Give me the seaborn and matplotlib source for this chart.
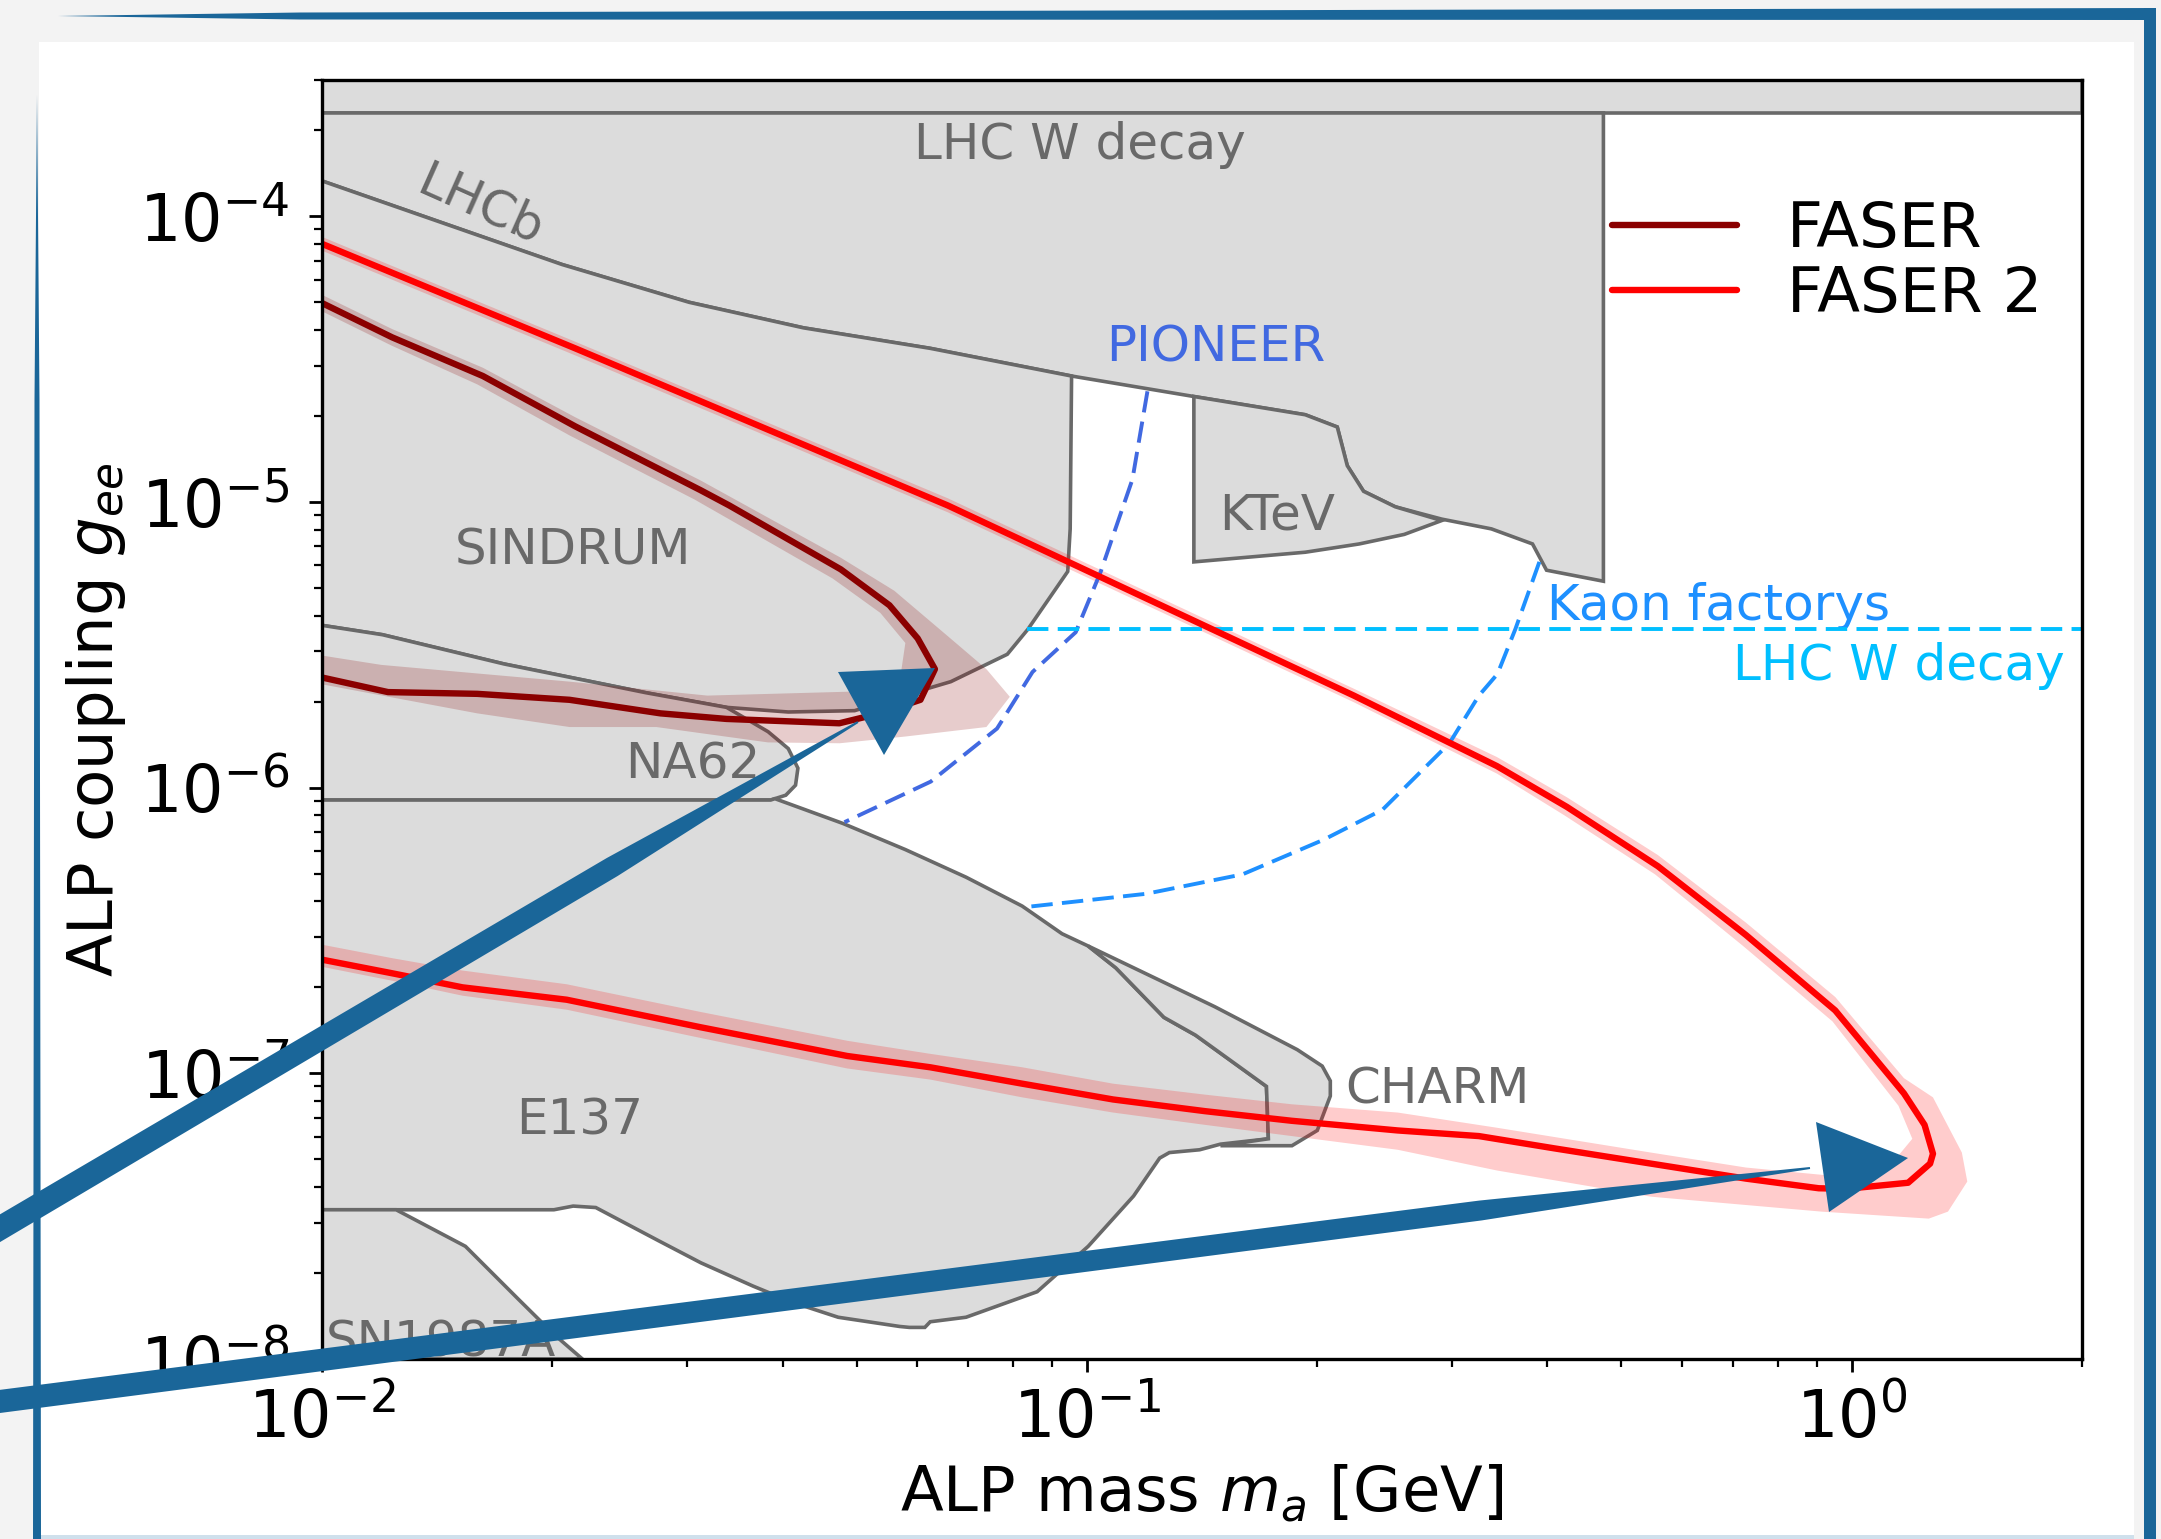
"""ALP-electron coupling: FASER / FASER 2 reach on top of existing limits."""

import matplotlib

matplotlib.use("Agg")
import matplotlib.pyplot as plt
import numpy as np
import seaborn as sns
from matplotlib.patches import Polygon

# ---------------------------------------------------------------------------
# data: ALP mass m_a [GeV] and coupling g_ee
# ---------------------------------------------------------------------------
STRIP_M = [0.01, 2.0, 2.0, 0.01]
STRIP_G = [2.3e-4, 2.3e-4, 1e-3, 1e-3]

LHCW_M = [0.01, 0.4735, 0.4735, 0.399, 0.3825, 0.338, 0.291, 0.253, 0.230,
          0.219, 0.2125, 0.193, 0.138, 0.0955, 0.0624, 0.0426, 0.0302, 0.0206, 0.01]
LHCW_G = [2.3e-4, 2.3e-4, 5.28e-6, 5.77e-6, 7.13e-6, 8.05e-6, 8.71e-6, 9.62e-6,
          1.09e-5, 1.34e-5, 1.83e-5, 2.02e-5, 2.34e-5, 2.76e-5, 3.45e-5,
          4.07e-5, 5.0e-5, 6.78e-5, 1.33e-4]

KTEV_M = [0.138, 0.138, 0.193, 0.227, 0.260, 0.291, 0.253, 0.230, 0.219, 0.2125, 0.193]
KTEV_G = [2.34e-5, 6.17e-6, 6.67e-6, 7.13e-6, 7.70e-6, 8.61e-6, 9.62e-6,
          1.09e-5, 1.34e-5, 1.83e-5, 2.02e-5]

SINDRUM_M = [0.01, 0.0206, 0.0302, 0.0426, 0.0624, 0.0955, 0.0951, 0.0944,
             0.0837, 0.0787, 0.0664, 0.0597, 0.0497, 0.0407, 0.0338, 0.0265,
             0.0173, 0.0120, 0.01]
SINDRUM_G = [1.33e-4, 6.78e-5, 5.0e-5, 4.07e-5, 3.45e-5, 2.76e-5, 8.05e-6,
             5.71e-6, 3.58e-6, 2.93e-6, 2.35e-6, 2.16e-6, 1.86e-6, 1.84e-6,
             1.91e-6, 2.15e-6, 2.71e-6, 3.43e-6, 3.70e-6]

NA62_M = [0.01, 0.0120, 0.0173, 0.0265, 0.0338, 0.0383, 0.0407, 0.0419,
          0.0416, 0.0404, 0.0386, 0.01]
NA62_G = [3.70e-6, 3.43e-6, 2.71e-6, 2.15e-6, 1.91e-6, 1.57e-6, 1.37e-6,
          1.17e-6, 1.02e-6, 9.41e-7, 9.05e-7, 9.05e-7]

E137_M = [0.01, 0.0386, 0.0391, 0.0480, 0.0579, 0.0695, 0.0823, 0.0928, 0.1004,
          0.1091, 0.1261, 0.1387, 0.1717, 0.1727, 0.1495, 0.1404, 0.1282,
          0.1245, 0.1151, 0.1004, 0.0861, 0.0695, 0.0624, 0.0614, 0.0586,
          0.0569, 0.0473, 0.0412, 0.0366, 0.0313, 0.0275, 0.0228, 0.0213,
          0.0201, 0.01]
E137_G = [9.05e-7, 9.05e-7, 9.15e-7, 7.49e-7, 6.07e-7, 4.86e-7, 3.85e-7,
          3.08e-7, 2.79e-7, 2.34e-7, 1.57e-7, 1.36e-7, 9.00e-8, 5.90e-8,
          5.65e-8, 5.40e-8, 5.28e-8, 5.05e-8, 3.72e-8, 2.48e-8, 1.72e-8,
          1.40e-8, 1.35e-8, 1.29e-8, 1.29e-8, 1.30e-8, 1.40e-8, 1.58e-8,
          1.80e-8, 2.17e-8, 2.60e-8, 3.39e-8, 3.43e-8, 3.33e-8, 3.33e-8]

CHARM_M = [0.1004, 0.1470, 0.1884, 0.2031, 0.2081, 0.2081, 0.2001, 0.1854,
           0.1495, 0.1727, 0.1717, 0.1387, 0.1261, 0.1091]
CHARM_G = [2.79e-7, 1.71e-7, 1.21e-7, 1.06e-7, 9.41e-8, 8.33e-8, 6.31e-8,
           5.58e-8, 5.58e-8, 5.90e-8, 9.00e-8, 1.36e-7, 1.57e-7, 2.34e-7]

SN1987A_M = [0.01, 0.0125, 0.0154, 0.0181, 0.0201, 0.0219, 0.01]
SN1987A_G = [3.33e-8, 3.33e-8, 2.48e-8, 1.61e-8, 1.22e-8, 1.0e-8, 1.0e-8]

# projected sensitivities (dashed)
PIONEER_M = [0.1200, 0.1147, 0.1042, 0.0967, 0.0849, 0.0763, 0.0625, 0.0482]
PIONEER_G = [2.44e-5, 1.20e-5, 5.68e-6, 3.50e-6, 2.54e-6, 1.61e-6, 1.05e-6, 7.57e-7]

KAON_M = [0.3905, 0.3634, 0.3442, 0.3255, 0.2978, 0.2435, 0.2039, 0.1597, 0.1195, 0.0839]
KAON_G = [6.17e-6, 3.60e-6, 2.50e-6, 2.10e-6, 1.43e-6, 8.37e-7, 6.57e-7,
          4.97e-7, 4.25e-7, 3.83e-7]

LHCW_PROJ_M = [0.0836, 2.0]
LHCW_PROJ_G = [3.58e-6, 3.58e-6]

# FASER reach
FASER_M = [0.01, 0.01235, 0.01623, 0.02143, 0.03125, 0.03406, 0.04767, 0.05519,
           0.06009, 0.06329, 0.06059, 0.05362, 0.04746, 0.03379, 0.02770,
           0.02107, 0.01596, 0.0122, 0.01]
FASER_G = [4.97e-5, 3.77e-5, 2.76e-5, 1.84e-5, 1.10e-5, 9.73e-6, 5.81e-6,
           4.35e-6, 3.33e-6, 2.60e-6, 2.03e-6, 1.82e-6, 1.68e-6, 1.74e-6,
           1.82e-6, 2.03e-6, 2.13e-6, 2.16e-6, 2.43e-6]
FASER_BAND_M = [0.01, 0.01235, 0.01623, 0.02143, 0.03125, 0.04767, 0.0560,
                0.0664, 0.0739, 0.0793, 0.0739, 0.0579, 0.0475, 0.0383, 0.02736,
                0.02107, 0.01596, 0.01,
                0.01, 0.01195, 0.01596, 0.02107, 0.0319, 0.0497, 0.0572, 0.0579,
                0.0537, 0.0465, 0.0307, 0.02107, 0.01596, 0.01235, 0.01]
FASER_BAND_G = [5.31e-5, 4.03e-5, 2.95e-5, 1.98e-5, 1.19e-5, 6.38e-6, 4.89e-6,
                3.32e-6, 2.60e-6, 2.08e-6, 1.63e-6, 1.51e-6, 1.43e-6, 1.44e-6,
                1.63e-6, 1.63e-6, 1.82e-6, 2.30e-6,
                2.90e-6, 2.69e-6, 2.51e-6, 2.35e-6, 2.10e-6, 2.17e-6, 2.57e-6,
                3.21e-6, 4.09e-6, 5.40e-6, 1.02e-5, 1.71e-5, 2.58e-5, 3.52e-5, 4.65e-5]

# FASER 2 reach
FASER2_M = [0.01, 0.02143, 0.0658, 0.2234, 0.3436, 0.4243, 0.5578, 0.7271,
            0.9515, 1.170, 1.245, 1.277, 1.266, 1.185, 0.9836, 0.9053, 0.7271,
            0.5463, 0.4088, 0.3255, 0.2549, 0.1854, 0.1428, 0.1082, 0.0823,
            0.0624, 0.0486, 0.03125, 0.02089, 0.01526, 0.01235, 0.01]
FASER2_G = [8.01e-5, 3.45e-5, 9.72e-6, 2.10e-6, 1.19e-6, 8.56e-7, 5.31e-7,
            3.05e-7, 1.66e-7, 8.51e-8, 6.60e-8, 5.23e-8, 4.83e-8, 4.14e-8,
            3.94e-8, 3.96e-8, 4.28e-8, 4.83e-8, 5.46e-8, 6.03e-8, 6.31e-8,
            6.82e-8, 7.37e-8, 8.10e-8, 9.20e-8, 1.05e-7, 1.15e-7, 1.45e-7,
            1.81e-7, 2.00e-7, 2.24e-7, 2.50e-7]
FASER2_BAND_M = [0.01, 0.02143, 0.0658, 0.2234, 0.3436, 0.4243, 0.5578, 0.7271,
                 0.9515, 1.170, 1.277, 1.393, 1.416, 1.336, 1.261, 0.9129, 0.5463,
                 0.3436, 0.2549, 0.1854, 0.1428, 0.1082, 0.0823, 0.0624, 0.0486,
                 0.03125, 0.02089, 0.01526, 0.01235, 0.01,
                 0.01, 0.01235, 0.01526, 0.02089, 0.03125, 0.0486, 0.0624, 0.0823,
                 0.1082, 0.1428, 0.1854, 0.2549, 0.3436, 0.5463, 0.7271, 0.9836,
                 1.128, 1.200, 1.151, 0.9436, 0.7211, 0.5532, 0.4207, 0.3436,
                 0.2234, 0.0658, 0.02143, 0.01]
FASER2_BAND_G = [8.47e-5, 3.64e-5, 1.03e-5, 2.22e-6, 1.28e-6, 9.25e-7, 5.81e-7,
                 3.37e-7, 1.85e-7, 9.62e-8, 8.24e-8, 5.28e-8, 4.18e-8, 3.28e-8,
                 3.10e-8, 3.28e-8, 3.70e-8, 4.57e-8, 5.40e-8, 6.03e-8, 6.60e-8,
                 7.29e-8, 8.24e-8, 9.51e-8, 1.04e-7, 1.33e-7, 1.67e-7, 1.87e-7,
                 2.11e-7, 2.36e-7,
                 2.82e-7, 2.53e-7, 2.29e-7, 2.05e-7, 1.64e-7, 1.30e-7, 1.17e-7,
                 1.05e-7, 9.20e-8, 8.42e-8, 7.79e-8, 7.29e-8, 6.45e-8, 5.28e-8,
                 4.68e-8, 4.33e-8, 4.83e-8, 5.90e-8, 7.70e-8, 1.52e-7, 2.79e-7,
                 4.97e-7, 8.01e-7, 1.12e-6, 1.99e-6, 9.20e-6, 3.26e-5, 7.58e-5]

# region labels: text, mass, coupling, colour, alignment, rotation
REGION_LABELS = [
    ("LHC W decay", 0.0980, 1.78e-4, "dimgray", "center", 0),
    ("LHCb", 0.0161, 1.09e-4, "dimgray", "center", -24),
    ("SINDRUM", 0.0213, 6.74e-6, "dimgray", "center", 0),
    ("NA62", 0.0305, 1.21e-6, "dimgray", "center", 0),
    ("E137", 0.0217, 6.82e-8, "dimgray", "center", 0),
    ("CHARM", 0.2874, 8.80e-8, "dimgray", "center", 0),
    ("KTeV", 0.1771, 9.0e-6, "dimgray", "center", 0),
    ("PIONEER", 0.1476, 3.48e-5, "royalblue", "center", 0),
    ("Kaon factorys", 0.399, 4.33e-6, "dodgerblue", "left", 0),
    ("LHC W decay", 1.90, 2.66e-6, "deepskyblue", "right", 0),
]

# ---------------------------------------------------------------------------
sns.set_style("ticks", {"axes.edgecolor": "black", "xtick.color": "black",
                        "ytick.color": "black", "text.color": "black",
                        "axes.labelcolor": "black"})
plt.rcParams["font.family"] = ["DejaVu Sans"]
plt.rcParams["mathtext.fontset"] = "dejavusans"

W, H = 2161, 1539
BLUE = "#1a6699"
fig = plt.figure(figsize=(W / 200, H / 200), dpi=200, facecolor="#f3f3f3")


def to_fig(points):
    return [(x / W, 1 - y / H) for x, y in points]


def deco(points, color, z):
    fig.add_artist(Polygon(to_fig(points), closed=True, transform=fig.transFigure,
                           facecolor=color, edgecolor="none", zorder=z))


def stroke(p0, p1, w0, wm, w1, fm=0.7):
    p0, p1 = np.asarray(p0, float), np.asarray(p1, float)
    d = p1 - p0
    n = np.array([-d[1], d[0]]) / np.hypot(*d)
    pm = p0 + fm * d
    return [p0 + n * w0 / 2, pm + n * wm / 2, p1 + n * w1 / 2,
            p1 - n * w1 / 2, pm - n * wm / 2, p0 - n * w0 / 2]


# page frame around the plot
deco([(39, 42), (2134, 42), (2134, 1539), (39, 1539)], "white", -10)
deco([(39, 1535), (2134, 1535), (2134, 1539), (39, 1539)], "#cfe0ec", -9)
deco([(58, 16), (300, 12.5), (2156, 8), (2156, 20), (300, 19.5)], BLUE, 20)
deco([(2144, 8), (2156, 8), (2156, 1539), (2144, 1539)], BLUE, 20)
deco([(37, 95), (39.5, 400), (41, 1539), (33, 1539), (34.5, 400)], BLUE, 20)

ax = fig.add_axes([322 / W, 1 - 1359 / H, 1760 / W, 1279 / H])
ax.set_xscale("log")
ax.set_yscale("log")
ax.set_xlim(0.01, 2.0)
ax.set_ylim(1e-8, 3e-4)

GRAY, EDGE = "gainsboro", "dimgray"
for m, g in [(STRIP_M, STRIP_G), (LHCW_M, LHCW_G), (KTEV_M, KTEV_G),
             (SINDRUM_M, SINDRUM_G), (NA62_M, NA62_G), (E137_M, E137_G),
             (CHARM_M, CHARM_G), (SN1987A_M, SN1987A_G)]:
    ax.fill(m, g, facecolor=GRAY, edgecolor=EDGE, lw=1.3, zorder=1)

for text, m, g, color, ha, rot in REGION_LABELS:
    ax.text(m, g, text, color=color, fontsize=18, ha=ha, va="center",
            rotation=rot, zorder=3)
ax.text(0.0101, 1.02e-8, "SN1987A", color="dimgray", fontsize=18,
        ha="left", va="baseline", zorder=3)

dash = (0, (5.5, 2.4))
for m, g, color in [(PIONEER_M, PIONEER_G, "royalblue"),
                    (KAON_M, KAON_G, "dodgerblue"),
                    (LHCW_PROJ_M, LHCW_PROJ_G, "deepskyblue")]:
    sns.lineplot(x=m, y=g, sort=False, estimator=None, color=color, lw=1.4,
                 linestyle=dash, ax=ax, zorder=4)

ax.fill(FASER_BAND_M, FASER_BAND_G, color="darkred", alpha=0.2, lw=0, zorder=2)
ax.fill(FASER2_BAND_M, FASER2_BAND_G, color="red", alpha=0.2, lw=0, zorder=2)
sns.lineplot(x=FASER_M, y=FASER_G, sort=False, estimator=None, color="darkred",
             lw=2.3, ax=ax, label="FASER", zorder=5)
sns.lineplot(x=FASER2_M, y=FASER2_G, sort=False, estimator=None, color="red",
             lw=2.3, ax=ax, label="FASER 2", zorder=5)

ax.legend(loc="upper left", bbox_to_anchor=(0.733, 0.906), frameon=False,
          fontsize=22.5, borderpad=0, borderaxespad=0, labelspacing=0.08,
          handlelength=2.0, handletextpad=0.8)

ax.set_xlabel(r"ALP mass $m_a$ [GeV]", fontsize=22.5)
ax.set_ylabel(r"ALP coupling $g_{ee}$", fontsize=22.5)
ax.xaxis.set_label_coords(0.5, -0.081)
ax.yaxis.set_label_coords(-0.110, 0.5)

ax.tick_params(which="major", length=4.6, width=1.0, labelsize=23.5, pad=5.5)
ax.tick_params(which="minor", length=3.0, width=0.8)
ax.tick_params(axis="y", which="major", pad=7)
for spine in ax.spines.values():
    spine.set_linewidth(1.2)
    spine.set_zorder(6)

# hand-drawn annotation arrows on top of the figure
deco(stroke((-20, 1240), (858, 722), 24, 21, 2, fm=0.72), BLUE, 30)
deco([(838, 672), (935, 668), (884, 755)], BLUE, 30)
deco(stroke((-20, 1404), (1810, 1168), 23, 20, 2, fm=0.82), BLUE, 30)
deco([(1816, 1122), (1908, 1158), (1829, 1212)], BLUE, 30)

fig.savefig("out.png", dpi=200, facecolor=fig.get_facecolor())
